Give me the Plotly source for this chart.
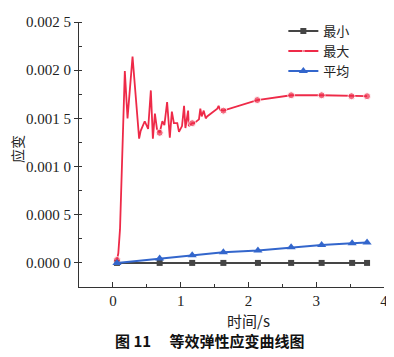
import plotly.graph_objects as go

# ---- data ----
t_max = [0.06, 0.08, 0.105, 0.13, 0.15, 0.176, 0.216, 0.29, 0.387, 0.41, 0.47, 0.52, 0.56, 0.59,
         0.62, 0.65, 0.69, 0.73, 0.76, 0.80, 0.84, 0.87, 0.90, 0.95, 0.975, 1.02, 1.05, 1.07,
         1.11, 1.12, 1.17, 1.20, 1.27, 1.29, 1.31, 1.34, 1.37, 1.39, 1.54, 1.56, 1.58, 1.63,
         2.13, 2.63, 3.08, 3.52, 3.75]
v_max = [0.00003, 0.0001, 0.00035, 0.0010, 0.0015, 0.00199, 0.0015, 0.00214, 0.00129, 0.00137,
         0.00147, 0.00139, 0.00179, 0.00129, 0.00155, 0.00139, 0.00135, 0.00147, 0.00143,
         0.00167, 0.0013, 0.00157, 0.00145, 0.00145, 0.00136, 0.00142, 0.00163, 0.0014,
         0.00158, 0.00142, 0.00145, 0.00145, 0.00149, 0.0016, 0.00152, 0.00158, 0.0015,
         0.00152, 0.0016, 0.00163, 0.00159, 0.00158, 0.00169, 0.00174, 0.00174, 0.00173, 0.00173]
max_marked = [0.06, 0.69, 1.17, 1.63, 2.13, 2.63, 3.08, 3.52, 3.75]

t_pts = [0.06, 0.69, 1.17, 1.63, 2.14, 2.63, 3.08, 3.53, 3.75]
v_min = [0.0, 0.0, 0.0, 0.0, 0.0, 0.0, 0.0, 0.0, 0.0]
v_avg = [0.0, 0.000047, 0.00008, 0.00011, 0.00013, 0.000163, 0.000187, 0.000203, 0.000213]

y_ticks = [0.0, 0.0005, 0.001, 0.0015, 0.002, 0.0025]
y_ticktext = ["0.000 0", "0.000 5", "0.001 0", "0.001 5", "0.002 0", "0.002 5"]
x_ticks = [0, 1, 2, 3, 4]

RED = "#EE2A48"
BLUE = "#3366CC"
DARK = "#454545"
SERIF = "Liberation Serif, Times New Roman, serif"
CJK = "Noto Sans CJK SC"

red_sizes = [7 if t in max_marked else 0 for t in t_max]

fig = go.Figure()
fig.add_trace(go.Scatter(x=t_pts, y=v_min, name="最小", mode="lines+markers",
                         line=dict(color=DARK, width=2),
                         marker=dict(symbol="square", size=6, color=DARK)))
fig.add_trace(go.Scatter(x=t_max, y=v_max, name="最大", mode="lines+markers",
                         line=dict(color=RED, width=1.8),
                         marker=dict(symbol="circle", size=red_sizes, color=RED)))
fig.add_trace(go.Scatter(x=t_pts, y=v_avg, name="平均", mode="lines+markers",
                         line=dict(color=BLUE, width=2),
                         marker=dict(symbol="triangle-up", size=8, color=BLUE)))

fig.update_layout(
    width=386, height=349,
    margin=dict(l=71, r=9, t=6, b=70),
    paper_bgcolor="white", plot_bgcolor="white",
    showlegend=True,
    legend=dict(x=0.67, y=1.022, xanchor="left", yanchor="top",
                font=dict(family=CJK, size=13, color="#222"),
                bgcolor="rgba(0,0,0,0)", itemwidth=30, tracegroupgap=0),
    xaxis=dict(range=[-0.5, 4], tickvals=x_ticks, showline=True, linecolor="#333",
               linewidth=1.2, ticks="inside", ticklen=5, tickcolor="#333",
               minor=dict(dtick=0.5, ticks="inside", ticklen=3, tickcolor="#333"),
               showgrid=False, zeroline=False, ticklabeloverflow="allow",
               tickfont=dict(family=SERIF, size=15, color="#222")),
    yaxis=dict(range=[-0.00025, 0.0025], tickvals=y_ticks, ticktext=y_ticktext,
               showline=True, linecolor="#333", linewidth=1.2,
               ticks="outside", ticklen=4, tickcolor="#333",
               minor=dict(dtick=0.00025, ticks="inside", ticklen=3, tickcolor="#333"),
               showgrid=False, zeroline=False, ticklabeloverflow="allow",
               tickfont=dict(family=SERIF, size=15, color="#222")),
    annotations=[
        dict(text="时间/s", xref="x", yref="paper", x=2, y=-0.128, showarrow=False,
             xanchor="center", yanchor="middle",
             font=dict(family=CJK, size=15, color="#222")),
        dict(text="应变", xref="paper", yref="paper", x=-0.204, y=0.52, showarrow=False,
             textangle=-90, xanchor="center", yanchor="middle",
             font=dict(family=CJK, size=14, color="#222")),
        dict(text="<b>图 11</b>\u2003 <b>等效弹性应变曲线图</b>", xref="paper", yref="paper",
             x=0.43, y=-0.2, showarrow=False, xanchor="center", yanchor="middle",
             font=dict(family=CJK, size=15, color="#111")),
    ],
)

fig.write_html("out.html")
